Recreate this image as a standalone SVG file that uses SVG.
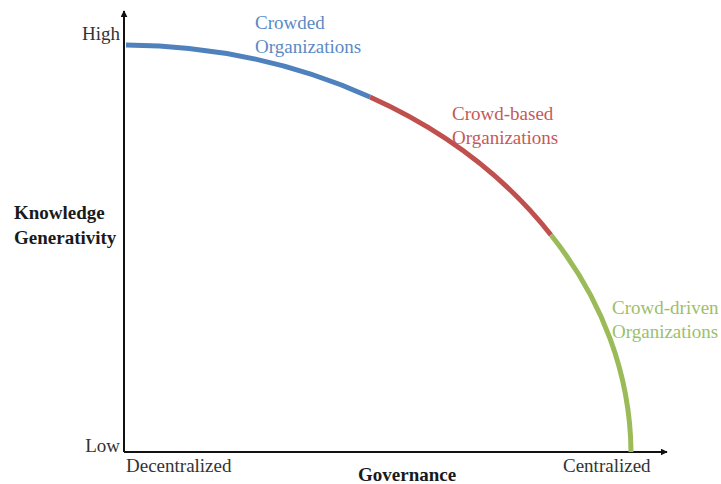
<svg xmlns="http://www.w3.org/2000/svg" width="721" height="484" viewBox="0 0 721 484">
  <style>
    text { font-family: 'Liberation Serif', 'Times New Roman', Tinos, 'DejaVu Serif', serif; font-size: 19px; }
    .axis-title { font-weight: bold; fill: #1a1a1a; }
    .tick { fill: #333333; }
    .axis { stroke: #111111; stroke-width: 2; fill: none; }
    .seg { fill: none; stroke-width: 5; }
    .blue { stroke: #4F81BD; } .blue-t { fill: #5A8AC4; }
    .red { stroke: #C0504D; } .red-t { fill: #C45A58; }
    .green { stroke: #9BBB59; } .green-t { fill: #9CC068; }
  </style>
  <defs>
    <marker id="arrow" viewBox="0 0 10 10" refX="9" refY="5" markerWidth="7" markerHeight="7" markerUnits="userSpaceOnUse" orient="auto">
      <path d="M0,0 L10,5 L0,10 z" fill="#111111"/>
    </marker>
  </defs>
  <rect width="721" height="484" fill="#ffffff"/>

  <!-- axes -->
  <g id="axes">
    <path class="axis" d="M124,452 L124,11" marker-end="url(#arrow)"/>
    <path class="axis" d="M124,452 L667,452" marker-end="url(#arrow)"/>
  </g>

  <!-- frontier curve: quarter ellipse centred on the origin -->
  <g id="curve">
    <path class="seg blue" d="M126,45 A507,407 0 0 1 370,97"/>
    <path class="seg red" d="M370,97 A507,407 0 0 1 551,235"/>
    <path class="seg green" d="M551,235 A507,407 0 0 1 631,452"/>
  </g>

  <g id="y-axis-labels">
    <text class="tick" x="120" y="40" text-anchor="end">High</text>
    <text class="tick" x="120" y="452" text-anchor="end">Low</text>
    <text class="axis-title" x="14" y="219">Knowledge</text>
    <text class="axis-title" x="14" y="244">Generativity</text>
  </g>

  <g id="x-axis-labels">
    <text class="tick" x="126" y="472">Decentralized</text>
    <text class="axis-title" x="358" y="481">Governance</text>
    <text class="tick" x="563" y="472">Centralized</text>
  </g>

  <g id="crowded">
    <text class="blue-t" x="255" y="29">Crowded</text>
    <text class="blue-t" x="255" y="53">Organizations</text>
  </g>
  <g id="crowd-based">
    <text class="red-t" x="452" y="120">Crowd-based</text>
    <text class="red-t" x="452" y="144">Organizations</text>
  </g>
  <g id="crowd-driven">
    <text class="green-t" x="612" y="314">Crowd-driven</text>
    <text class="green-t" x="612" y="338">Organizations</text>
  </g>
</svg>
